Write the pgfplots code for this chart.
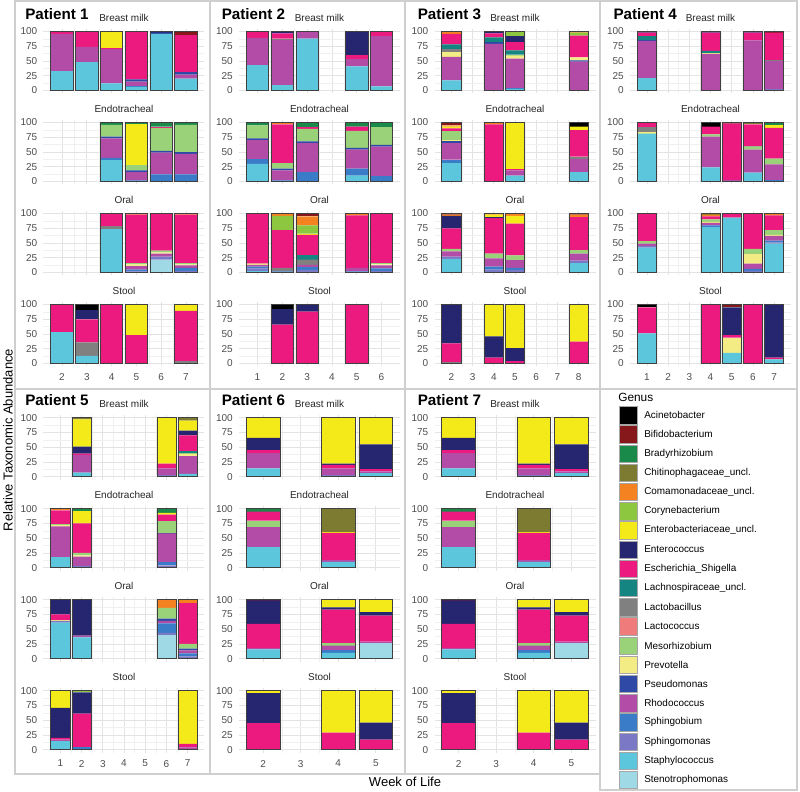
\documentclass[border=0pt]{standalone}
\usepackage{fontspec}
\setmainfont{Liberation Sans}
\usepackage{pgfplots}
\usepackage{pgfplotstable}
\pgfplotsset{compat=1.18}

\definecolor{cAc}{HTML}{000000}
\definecolor{cBi}{HTML}{86181B}
\definecolor{cBr}{HTML}{1A8A4A}
\definecolor{cCh}{HTML}{7D7B31}
\definecolor{cCo}{HTML}{F58220}
\definecolor{cCy}{HTML}{8DC63F}
\definecolor{cEb}{HTML}{F4EA1A}
\definecolor{cEc}{HTML}{25266F}
\definecolor{cEs}{HTML}{EC1A7E}
\definecolor{cLa}{HTML}{148580}
\definecolor{cLb}{HTML}{808080}
\definecolor{cLc}{HTML}{F07B7B}
\definecolor{cMe}{HTML}{9AD27A}
\definecolor{cPr}{HTML}{F3EC85}
\definecolor{cPs}{HTML}{2E4AA6}
\definecolor{cRh}{HTML}{B24CA6}
\definecolor{cSb}{HTML}{3B7CC9}
\definecolor{cSm}{HTML}{7B79C6}
\definecolor{cSt}{HTML}{5CC7DC}
\definecolor{cSn}{HTML}{9FD9E5}
\definecolor{gridc}{HTML}{E3E3E3}
\definecolor{gridm}{HTML}{F0F0F0}
\definecolor{tickc}{HTML}{4D4D4D}
\definecolor{barc}{HTML}{404040}
\definecolor{boxc}{HTML}{CFCFCF}

% ---------------- data (percent per genus, one table per patient and sample) ----------------
\pgfplotstableread{
x T St Sb Rh Ps Es Ec Eb Bi
2 100 33 0 63 0 4 0 0 0
3 100 48 0 26 0 26 0 0 0
4 100 12 0 58 0 2 0 28 0
5 100 6 2 7 4 81 0 0 0
6 100 96 0 0 2 0 2 0 0
7 100 20 0 7 4 63 0 0 6
}\PaBM
\pgfplotstableread{
x T St Sb Rh Ps Me Es Eb Br
4 100 36 4 33 3 20 0 0 4
5 100 0 2 14 3 9 0 69 3
6 100 0 12 37 3 39 2 0 7
7 100 0 12 35 3 46 0 0 4
}\PaET
\pgfplotstableread{
x T Sn St Sm Sb Rh Pr Me Lb Es Co
4 100 0 73 0 0 0 0 0 5 22 0
5 100 0 0 2 3 6 3 2 0 82 2
6 100 22 0 5 0 5 2 3 0 63 0
7 100 0 0 3 5 4 2 2 0 82 2
}\PaOR
\pgfplotstableread{
x T St Lb Es Ec Eb Ac
2 100 53 0 47 0 0 0
3 100 13 23 39 15 0 10
4 100 0 0 100 0 0 0
5 100 0 0 48 0 52 0
7 100 0 4 85 0 11 0
}\PaST

\pgfplotstableread{
x T St Rh Lb Es Ec
1 100 43 46 0 11 0
2 100 9 77 2 9 3
3 100 88 12 0 0 0
5 100 41 12 0 7 40
6 100 7 85 0 8 0
}\PbBM
\pgfplotstableread{
x T St Sb Rh Ps Me Es Co Br
1 100 30 8 32 3 22 0 0 5
2 100 0 2 17 3 9 66 3 0
3 100 0 16 49 3 21 3 0 8
5 100 10 12 32 3 29 7 0 7
6 100 0 9 50 3 30 0 0 8
}\PbET
\pgfplotstableread{
x T St Sm Sb Rh Pr Me Lb La Es Eb Cy Co Bi
1 100 3 4 3 3 2 0 0 0 85 0 0 0 0
2 100 0 0 2 0 0 0 6 0 64 0 24 4 0
3 100 0 4 5 4 0 0 9 8 34 2 14 15 5
5 100 0 0 2 6 0 0 0 0 89 0 0 3 0
6 100 0 3 4 5 2 2 0 0 84 0 0 0 0
}\PbOR
\pgfplotstableread{
x T Es Ec Ac
2 100 66 26 8
3 100 88 12 0
5 100 100 0 0
}\PbST

\pgfplotstableread{
x T St Sb Rh Ps Pr Me Lb La Es Ec Cy Co
2 100 17 0 40 0 8 0 5 8 18 0 0 4
4 100 0 0 79 3 0 0 0 8 7 3 0 0
5 100 3 1 50 0 5 2 0 7 14 10 8 0
8 100 0 0 49 2 5 0 0 0 37 0 5 2
}\PcBM
\pgfplotstableread{
x T St Sb Rh Ps Pr Me Lb Es Eb Co Bi Ac
2 100 31 6 28 3 3 15 0 4 3 2 5 0
4 100 0 0 0 0 0 0 0 97 0 3 0 0
5 100 10 0 9 0 0 0 0 2 79 0 0 0
8 100 16 0 22 0 0 0 4 45 6 0 0 7
}\PcET
\pgfplotstableread{
x T St Sm Sb Rh Me Es Ec Eb Co Bi
2 100 23 4 0 9 4 35 21 0 2 2
4 100 0 5 5 14 8 60 2 4 2 0
5 100 0 4 4 13 8 54 0 13 3 1
8 100 16 4 0 12 6 56 0 0 4 2
}\PcOR
\pgfplotstableread{
x T Lb Es Ec Eb
2 100 3 31 66 0
4 100 0 10 36 54
5 100 0 4 22 74
8 100 0 37 0 63
}\PcST

\pgfplotstableread{
x T St Sm Rh Ps Pr Lb La Es Ec Bi
1 100 21 0 63 2 0 0 6 6 2 0
4 100 0 0 62 0 2 0 3 31 2 0
6 100 0 0 85 0 0 0 0 13 2 0
7 100 0 3 47 0 0 1 0 47 0 2
}\PdBM
\pgfplotstableread{
x T St Sb Rh Pr Me Lb Es Eb Ch Br Bi Ac
1 100 81 0 0 3 0 8 7 0 0 0 1 0
4 100 24 0 52 0 4 0 13 0 0 0 0 7
5 100 0 0 3 0 0 0 95 0 0 0 2 0
6 100 15 0 39 0 5 1 37 0 3 0 0 0
7 100 0 2 27 0 10 0 52 4 0 5 0 0
}\PdET
\pgfplotstableread{
x T St Sm Sb Rh Pr Me Es Co Ch
1 100 42 3 0 4 0 4 47 0 0
4 100 77 0 3 4 2 4 5 3 2
5 100 93 0 0 0 0 0 7 0 0
6 100 0 3 3 9 16 9 60 0 0
7 100 49 2 3 8 2 8 25 3 0
}\PdOR
\pgfplotstableread{
x T St Pr Es Ec Bi Ac
1 100 51 0 44 0 0 5
4 100 0 0 100 0 0 0
5 100 18 26 4 47 5 0
6 100 0 0 100 0 0 0
7 100 7 0 3 90 0 0
}\PdST

\pgfplotstableread{
x T St Sm Rh Pr Me La Es Ec Eb Ch
2 100 7 0 30 0 0 0 2 12 46 3
6 100 0 3 11 0 0 0 8 0 78 0
7 100 5 0 30 3 2 4 26 8 17 5
}\PeBM
\pgfplotstableread{
x T St Sm Sb Rh Ps Pr Me Es Eb Co Br
1 100 18 0 0 52 0 2 2 23 0 3 0
2 100 0 3 0 16 0 2 4 50 21 0 4
6 100 0 4 5 49 1 0 20 11 3 0 7
}\PeET
\pgfplotstableread{
x T Sn St Sm Sb Rh Ps Pr Me Es Ec Co
1 100 0 61 3 0 0 0 2 0 9 25 0
2 100 0 36 1 0 2 0 0 0 0 61 0
6 100 40 0 4 16 4 4 0 18 0 0 14
7 100 0 0 4 5 5 3 0 8 69 0 6
}\PeOR
\pgfplotstableread{
x T St Sb Rh Es Ec Eb Cy
1 100 14 0 3 3 51 29 0
2 100 0 4 0 57 36 0 3
7 100 0 0 4 6 0 90 0
}\PeST

\pgfplotstableread{
x T St Sm Rh Es Ec Eb
2 100 14 0 26 5 21 34
4 100 0 3 11 6 2 78
5 100 6 0 3 4 42 45
}\PfBM
\pgfplotstableread{
x T St Rh Me Es Eb Ch Br
2 100 35 34 11 15 0 0 5
4 100 10 3 0 46 2 39 0
}\PfET
\pgfplotstableread{
x T Sn St Sb Rh Me Es Ec Eb Bi
2 100 0 16 0 2 0 41 40 0 1
4 100 0 10 4 8 5 56 4 13 0
5 100 27 0 0 2 0 44 6 21 0
}\PfOR
\pgfplotstableread{
x T Es Ec Eb
2 100 45 51 4
4 100 29 0 71
5 100 17 29 54
}\PfST

% ---------------- styles ----------------
\pgfplotsset{
  every axis title/.style={at={(0.5,1)}, anchor=base, yshift=5.2pt, inner sep=0pt,
      font=\fontsize{7.5}{9}\selectfont, text=black!85},
  panel/.style={
    scale only axis, width=120.75pt, height=48.7pt, anchor=north west,
    ymin=-5, ymax=105, ytick={0,25,50,75,100}, minor ytick={12.5,37.5,62.5,87.5},
    minor x tick num=1,
    grid=both,
    major grid style={draw=gridc, line width=0.5pt},
    minor grid style={draw=gridm, line width=0.35pt},
    axis line style={draw=none},
    major tick length=0pt, minor tick length=0pt,
    tick label style={font=\fontsize{7.5}{9}\selectfont, text=tickc},
    yticklabel style={xshift=-1.2pt},
    xticklabel style={yshift=-2pt},
    /pgf/number format/assume math mode=true,
    ybar stacked, bar width=0.9,
  },
  frame/.style={scale only axis, width=120.75pt, height=48.7pt, anchor=north west,
    ymin=-5, ymax=105, hide axis, ybar, bar width=0.9},
  nolab/.style={xticklabels={}},
}

\newcommand\stackbars[1]{%
  \pgfplotstableforeachcolumn#1\as\col{%
    \edef\tmp{\noexpand\addplot[fill=c\col,draw=none] table[x=x,y=\col]{\noexpand#1};}%
    \ifnum\pgfplotstablecol>1 \expandafter\tmp\fi}}

\newcommand\panel[8]{%
  \begin{axis}[panel, at={({0.75*#1pt},{-0.75*#2pt})}, xmin=#3, xmax=#4, xtick={#5}, title={#6}, #8]
    \stackbars{#7}
  \end{axis}
  \begin{axis}[frame, at={({0.75*#1pt},{-0.75*#2pt})}, xmin=#3, xmax=#4]
    \addplot[fill=none, draw=barc, line width=0.55pt] table[x=x, y=T]{#7};
  \end{axis}}

\begin{document}
\begin{tikzpicture}
\path[use as bounding box] (0,0) rectangle (600pt,-594pt);

\begin{scope}[x=0.75pt, y=-0.75pt]
  \foreach \a/\b/\c/\d in {15/1/210/389, 210/1/405/389, 405/1/600/389, 600/1/797/389,
      15/389/210/774, 210/389/405/774, 405/389/600/774, 600/389/797/790}
    \draw[boxc, line width=0.8pt] (\a,\b) rectangle (\c,\d);
\end{scope}

% Patient 1
\panel{43.5}{28.55}{1.255}{7.745}{2,...,7}{Breast milk}{\PaBM}{nolab}
\panel{43.5}{119.55}{1.255}{7.745}{2,...,7}{Endotracheal}{\PaET}{nolab}
\panel{43.5}{210.55}{1.255}{7.745}{2,...,7}{Oral}{\PaOR}{nolab}
\panel{43.5}{301.55}{1.255}{7.745}{2,...,7}{Stool}{\PaST}{}
% Patient 2
\panel{239}{28.55}{0.255}{6.745}{1,...,6}{Breast milk}{\PbBM}{nolab}
\panel{239}{119.55}{0.255}{6.745}{1,...,6}{Endotracheal}{\PbET}{nolab}
\panel{239}{210.55}{0.255}{6.745}{1,...,6}{Oral}{\PbOR}{nolab}
\panel{239}{301.55}{0.255}{6.745}{1,...,6}{Stool}{\PbST}{}
% Patient 3
\panel{434.5}{28.55}{1.205}{8.795}{2,...,8}{Breast milk}{\PcBM}{nolab}
\panel{434.5}{119.55}{1.205}{8.795}{2,...,8}{Endotracheal}{\PcET}{nolab}
\panel{434.5}{210.55}{1.205}{8.795}{2,...,8}{Oral}{\PcOR}{nolab}
\panel{434.5}{301.55}{1.205}{8.795}{2,...,8}{Stool}{\PcST}{}
% Patient 4
\panel{630}{28.55}{0.205}{7.795}{1,...,7}{Breast milk}{\PdBM}{nolab}
\panel{630}{119.55}{0.205}{7.795}{1,...,7}{Endotracheal}{\PdET}{nolab}
\panel{630}{210.55}{0.205}{7.795}{1,...,7}{Oral}{\PdOR}{nolab}
\panel{630}{301.55}{0.205}{7.795}{1,...,7}{Stool}{\PdST}{}
% Patient 5
\panel{43.5}{414.75}{0.205}{7.795}{1,...,7}{Breast milk}{\PeBM}{nolab}
\panel{43.5}{505.75}{0.205}{7.795}{1,...,7}{Endotracheal}{\PeET}{nolab}
\panel{43.5}{596.75}{0.205}{7.795}{1,...,7}{Oral}{\PeOR}{nolab}
\panel{43.5}{687.75}{0.205}{7.795}{1,...,7}{Stool}{\PeST}{}
% Patient 6
\panel{239}{414.75}{1.355}{5.645}{2,...,5}{Breast milk}{\PfBM}{nolab}
\panel{239}{505.75}{1.355}{5.645}{2,...,5}{Endotracheal}{\PfET}{nolab}
\panel{239}{596.75}{1.355}{5.645}{2,...,5}{Oral}{\PfOR}{nolab}
\panel{239}{687.75}{1.355}{5.645}{2,...,5}{Stool}{\PfST}{}
% Patient 7
\panel{434.5}{414.75}{1.355}{5.645}{2,...,5}{Breast milk}{\PfBM}{nolab}
\panel{434.5}{505.75}{1.355}{5.645}{2,...,5}{Endotracheal}{\PfET}{nolab}
\panel{434.5}{596.75}{1.355}{5.645}{2,...,5}{Oral}{\PfOR}{nolab}
\panel{434.5}{687.75}{1.355}{5.645}{2,...,5}{Stool}{\PfST}{}

\begin{scope}[x=0.75pt, y=-0.75pt]
  \foreach \n/\px/\py in {1/25/19.7, 2/221.5/19.7, 3/417.5/19.7, 4/613.3/19.7,
      5/25/405, 6/221.5/405, 7/417.5/405}
    \node[anchor=base west, inner sep=0pt, font=\bfseries\fontsize{11.4}{13}\selectfont] at (\px,\py) {Patient \n};
  \node[rotate=90, inner sep=0pt, font=\fontsize{9.75}{11}\selectfont] at (8,440) {Relative Taxonomic Abundance};
  \node[inner sep=0pt, font=\fontsize{9.75}{11}\selectfont] at (405,782) {Week of Life};
  % legend
  \node[anchor=west, inner sep=0pt, font=\fontsize{8.9}{10}\selectfont] at (618,397) {Genus};
  \foreach \k/\name [count=\i from 0] in {Ac/Acinetobacter, Bi/Bifidobacterium, Br/Bradyrhizobium,
      Ch/Chitinophagaceae\_uncl., Co/Comamonadaceae\_uncl., Cy/Corynebacterium,
      Eb/Enterobacteriaceae\_uncl., Ec/Enterococcus, Es/Escherichia\_Shigella,
      La/Lachnospiraceae\_uncl., Lb/Lactobacillus, Lc/Lactococcus, Me/Mesorhizobium,
      Pr/Prevotella, Ps/Pseudomonas, Rh/Rhodococcus, Sb/Sphingobium, Sm/Sphingomonas,
      St/Staphylococcus, Sn/Stenotrophomonas} {
    \fill[c\k, draw=gray!70, line width=0.4pt] (619,{406.4+19.2*\i}) rectangle ++(18,17.4);
    \node[anchor=west, inner sep=0pt, font=\fontsize{7.45}{9}\selectfont] at (644,{415.1+19.2*\i}) {\name};
  }
\end{scope}
\end{tikzpicture}
\end{document}
